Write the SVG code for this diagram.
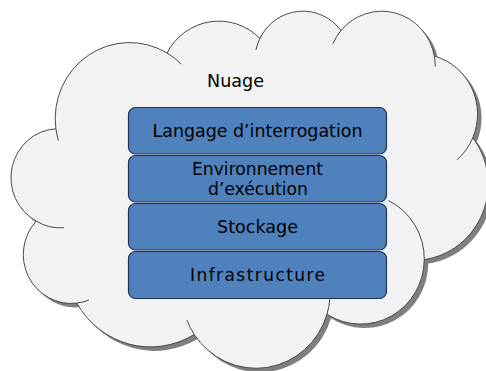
<svg xmlns="http://www.w3.org/2000/svg" width="486" height="371" viewBox="0 0 486 371">
<style>
.cloud{fill:#f2f2f2;stroke:#4a4a4a;stroke-width:1}
.shadow{fill:#7f7f7f;stroke:none}
.tail{fill:none;stroke:#4a4a4a;stroke-width:1}
.box{fill:#4f81bd;stroke:#1f3556;stroke-width:1.2}
.lbl{font-family:"DejaVu Sans","Liberation Sans",sans-serif;font-size:17px;fill:#000;text-anchor:middle}
</style>
<defs>
<path id="cp" vector-effect="non-scaling-stroke" d="M3900 14370A6753 9190 0 0 1 14005 5202A5333 7267 0 0 1 22456 3432A4365 5945 0 0 1 29833 2480A4857 6595 0 0 1 38318 5575A5333 7273 0 0 1 41819 15459A6775 9220 0 0 1 37405 30203A5785 7867 0 0 1 28556 36813A6752 9215 0 0 1 16481 39264A7720 10543 0 0 1 5805 35470A4360 5918 0 0 1 2114 25548A4345 5945 0 0 1 3900 14370Z"/>
</defs>
<g id="cloud">
<use href="#cp" class="shadow" transform="translate(17,14) scale(0.0109954 0.0082639)"/>
<use href="#cp" class="cloud" transform="translate(13,10) scale(0.0109954 0.0082639)"/>
<path class="tail" vector-effect="non-scaling-stroke" transform="translate(13,10) scale(0.0109954 0.0082639)" d="M4647 26345A4345 5945 0 0 1 2114 25548M6913 35089A4360 5918 0 0 1 5805 35470M16481 39264A6752 9215 0 0 1 15813 37524M28823 34903A6752 9215 0 0 1 28556 36813M34153 23067A5785 7867 0 0 1 37405 30203M41819 15459A5333 7273 0 0 1 40371 18135M38318 5575A4857 6595 0 0 1 38395 6839M29091 4092A4857 6595 0 0 1 29833 2480M22097 4822A4365 5945 0 0 1 22456 3432M14005 5202A6753 9190 0 0 1 15305 6550M4127 15789A6753 9190 0 0 1 3900 14370"/>
<text class="lbl" x="235.5" y="87" style="font-size:18px" textLength="57" lengthAdjust="spacingAndGlyphs">Nuage</text>
</g>
<g id="connectors"/>
<g id="langage">
<rect class="box" x="128.5" y="107.5" width="258" height="46.5" rx="7"/>
<text class="lbl" x="257.5" y="137" textLength="210" lengthAdjust="spacingAndGlyphs">Langage d’interrogation</text>
</g>
<g id="environnement">
<rect class="box" x="128.5" y="155.5" width="258" height="46.5" rx="7"/>
<text class="lbl" x="257.5" y="175" textLength="131" lengthAdjust="spacingAndGlyphs">Environnement</text>
<text class="lbl" x="258" y="195" textLength="100" lengthAdjust="spacingAndGlyphs">d’exécution</text>
</g>
<g id="stockage">
<rect class="box" x="128.5" y="203.5" width="258" height="46.5" rx="7"/>
<text class="lbl" x="257.5" y="232.5" textLength="81" lengthAdjust="spacingAndGlyphs">Stockage</text>
</g>
<g id="infrastructure">
<rect class="box" x="128.5" y="251.5" width="258" height="47" rx="7"/>
<text class="lbl" x="257.5" y="281" textLength="135" lengthAdjust="spacing">Infrastructure</text>
</g>
</svg>
